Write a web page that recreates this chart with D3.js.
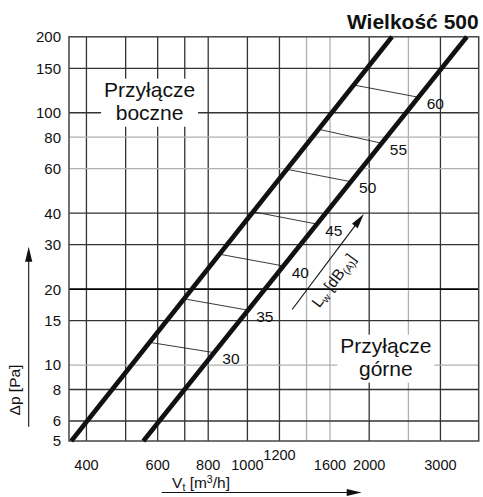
<!DOCTYPE html>
<html><head><meta charset="utf-8">
<script src="https://cdn.jsdelivr.net/npm/d3@7"></script>
<style>html,body{margin:0;padding:0;background:#fff;} svg{display:block;font-family:"Liberation Sans",Arial,Helvetica,sans-serif;}</style>
</head><body><svg id="c" width="483" height="497"></svg>
<script>
// ---- data ----
const xGrid = [400,500,600,700,800,1000,1200,1400,1600,2000,2500,3000];
const xGridLight = [1400,1600,2500];
const xTickLabels = [400,600,800,1000,1200,1600,2000,3000];
const xRaisedLabels = [1200];
const yGrid = [6,8,10,15,20,30,40,60,80,100,150];
const yGridLight = [10,60,80];
const yGridHeavy = [20];
const yTickLabels = [5,6,8,10,15,20,30,40,60,80,100,150,200];
const lineBoczneV = [367, 2277];
const lineBoczneP = [5, 200];
const lineGorneV = [553, 3487];
const lineGorneP = [5, 200];
const dbLevels = [30,35,40,45,50,55,60];
const dbPBoczne = [12.3,18.3,27.5,40.5,59.7,86.0,128.8];
const dbPGorne  = [11.2,16.5,24.7,36.2,53.3,75.7,115.2];
const lwArrowV = [1290, 1940];
const lwArrowP = [16.6, 39.7];
const regionLabels = [
  {lines:["Przyłącze","boczne"], V:573, p:115.8},
  {lines:["Przyłącze","górne"], V:2199, p:11.2}
];
const title = "Wielkość 500";

// ---- scales ----
const svg = d3.select("#c");
const x = d3.scaleLog().domain([362.2, 3730]).range([69, 478.7]);
const y = d3.scaleLog().domain([5, 200]).range([441, 36.8]);
const X0 = x.range()[0], X1 = x.range()[1];
const Y0 = y(200), Y1 = y(5);

function vOnLine(Vs, Ps, p){
  const t = (Math.log(p) - Math.log(Ps[0])) / (Math.log(Ps[1]) - Math.log(Ps[0]));
  return Math.exp(Math.log(Vs[0]) + t*(Math.log(Vs[1]) - Math.log(Vs[0])));
}

// ---- grid ----
const g = svg.append("g");
g.selectAll("line.v").data(xGrid).join("line")
  .attr("x1", d=>x(d)).attr("x2", d=>x(d)).attr("y1", Y0).attr("y2", Y1)
  .attr("stroke", d=>xGridLight.includes(d) ? "#b0b0b0" : "#333")
  .attr("stroke-width", 1.3);
g.selectAll("line.h").data(yGrid).join("line")
  .attr("x1", X0).attr("x2", X1).attr("y1", d=>y(d)).attr("y2", d=>y(d))
  .attr("stroke", d=>yGridLight.includes(d) ? "#b0b0b0" : (yGridHeavy.includes(d) ? "#000" : "#333"))
  .attr("stroke-width", d=>yGridHeavy.includes(d) ? 1.8 : 1.3);
svg.append("rect").attr("x", X0).attr("y", Y0).attr("width", X1-X0).attr("height", Y1-Y0)
  .attr("fill","none").attr("stroke","#444").attr("stroke-width",1.5);

// ---- tick labels ----
svg.selectAll("text.yt").data(yTickLabels).join("text")
  .attr("x", 61).attr("y", d=>y(d)).attr("dy","0.36em")
  .attr("text-anchor","end").attr("font-size",15).attr("fill","#111").text(d=>d);
svg.selectAll("text.xt").data(xTickLabels).join("text")
  .attr("x", d=>x(d)).attr("y", d=> xRaisedLabels.includes(d) ? 460 : 469.5)
  .attr("text-anchor","middle").attr("font-size",14.5).attr("fill","#111").text(d=>d);

// ---- region labels with white boxes ----
regionLabels.forEach(r=>{
  const gg = svg.append("g");
  const t = gg.append("text").attr("text-anchor","middle").attr("font-size",21).attr("fill","#111");
  r.lines.forEach((s,i)=>{
    t.append("tspan").attr("x", x(r.V)).attr("y", y(r.p) + i*23).text(s);
  });
  const bb = t.node().getBBox();
  gg.insert("rect","text").attr("x", bb.x-3).attr("y", bb.y+1).attr("width", bb.width+6).attr("height", bb.height+2).attr("fill","#fff");
});

// ---- dB lines ----
const dbData = dbLevels.map((L,i)=>({L, pB: dbPBoczne[i], pG: dbPGorne[i]}));
svg.selectAll("line.db").data(dbData).join("line")
  .attr("x1", d=>x(vOnLine(lineBoczneV, lineBoczneP, d.pB))).attr("y1", d=>y(d.pB))
  .attr("x2", d=>x(vOnLine(lineGorneV, lineGorneP, d.pG))).attr("y2", d=>y(d.pG))
  .attr("stroke","#222").attr("stroke-width",0.9);

// ---- thick lines ----
const lineGen = d3.line().x(d=>x(d[0])).y(d=>y(d[1]));
[[lineBoczneV,lineBoczneP],[lineGorneV,lineGorneP]].forEach(([Vs,Ps])=>{
  svg.append("path").attr("d", lineGen(Vs.map((v,i)=>[v,Ps[i]])))
    .attr("stroke","#111").attr("stroke-width",4.6).attr("fill","none").attr("stroke-linecap","butt");
});

// ---- dB labels ----
svg.selectAll("text.db").data(dbData).join("text")
  .attr("x", d=>{ const yy = y(d.pG)+6; const p = y.invert(yy); return x(vOnLine(lineGorneV,lineGorneP,p)) + 13; })
  .attr("y", d=>y(d.pG)+6).attr("dy","0.36em")
  .attr("font-size",15.5).attr("fill","#111").text(d=>d.L);

// ---- arrows ----
function arrow(x1,y1,x2,y2,len,hw){
  const dx=x2-x1, dy=y2-y1, l=Math.hypot(dx,dy), ux=dx/l, uy=dy/l;
  svg.append("line").attr("x1",x1).attr("y1",y1).attr("x2",x2-ux*len*0.8).attr("y2",y2-uy*len*0.8)
    .attr("stroke","#111").attr("stroke-width",1.1);
  const bx=x2-ux*len, by=y2-uy*len;
  svg.append("path").attr("d",`M${x2},${y2}L${bx-uy*hw},${by+ux*hw}L${bx+uy*hw},${by-ux*hw}Z`).attr("fill","#111");
}
// Lw arrow
const ax1=x(lwArrowV[0]), ay1=y(lwArrowP[0]), ax2=x(lwArrowV[1]), ay2=y(lwArrowP[1]);
arrow(ax1,ay1,ax2,ay2,15,3.6);
{
  const dx=ax2-ax1, dy=ay2-ay1, l=Math.hypot(dx,dy), ux=dx/l, uy=dy/l;
  const nx=-uy, ny=ux;
  const cx=ax1+ux*48+nx*21, cy=ay1+uy*48+ny*21;
  const ang=Math.atan2(dy,dx)*180/Math.PI;
  const t=svg.append("text").attr("transform",`translate(${cx},${cy}) rotate(${ang})`)
    .attr("text-anchor","middle").attr("font-size",15.5).attr("fill","#111");
  t.append("tspan").text("L");
  t.append("tspan").attr("dy",3).attr("font-size",10.5).text("w");
  t.append("tspan").attr("dy",-3).text(" [dB");
  t.append("tspan").attr("dy",3).attr("font-size",10.5).text("(A)");
  t.append("tspan").attr("dy",-3).text("]");
}
// axis arrows
arrow(161.7, 492.5, 361.7, 492.5, 15, 3.6);
arrow(28.7, 426.7, 28.7, 246.7, 15, 3.6);

// ---- axis titles ----
{
  const t=svg.append("text").attr("x",201).attr("y",488.3).attr("text-anchor","middle").attr("font-size",15.5).attr("fill","#111");
  t.append("tspan").text("V");
  t.append("tspan").attr("dy",3).attr("font-size",10.5).text("t");
  t.append("tspan").attr("dy",-3).text(" [m");
  t.append("tspan").attr("dy",-5).attr("font-size",10.5).text("3");
  t.append("tspan").attr("dy",5).text("/h]");
}
svg.append("text").attr("transform","translate(20,390) rotate(-90)").attr("text-anchor","middle")
  .attr("font-size",15.5).attr("fill","#111").text("Δp [Pa]");

// ---- title ----
svg.append("text").attr("x",478.7).attr("y",29.3).attr("text-anchor","end")
  .attr("font-size",21).attr("font-weight","bold").attr("fill","#111").text(title);
</script></body></html>
